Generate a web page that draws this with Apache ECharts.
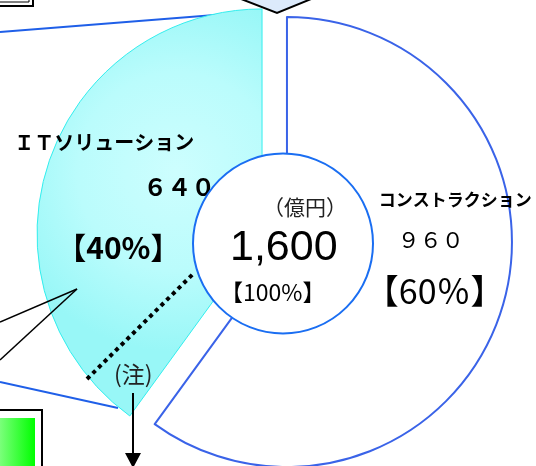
<!DOCTYPE html>
<html><head><meta charset="utf-8">
<script src="https://cdn.jsdelivr.net/npm/echarts@6/dist/echarts.min.js"></script>
<style>html,body{margin:0;padding:0;background:#fff}#c{width:536px;height:466px}</style>
</head><body><div id="c"></div>
<script>
// ---- data ----
const categories = ['コンストラクション', 'ＩＴソリューション'];
const values = [960, 640];
const shareLabels = ['60％', '40%'];
const total = 1600;
const totalLines = ['（億円）', '1,600', '【100%】'];
const noteLabel = '(注)';

const fw = n => String(n).replace(/[0-9]/g, d => String.fromCharCode(d.charCodeAt(0) + 0xFEE0));
const JP = '"Noto Sans CJK JP", sans-serif';

const chart = echarts.init(document.getElementById('c'), null, {renderer: 'canvas'});

const itGrad = new echarts.graphic.RadialGradient(0.62, 0.4, 0.8, [
  {offset: 0, color: '#cdfefe'},
  {offset: 0.55, color: '#bafcfc'},
  {offset: 1, color: '#98f7f7'}
]);
const greenGrad = new echarts.graphic.LinearGradient(0, 0, 1, 0, [
  {offset: 0, color: '#8cff8c'},
  {offset: 1, color: '#00ff00'}
]);

chart.setOption({
  animation: false,
  backgroundColor: '#fff',
  title: {
    left: 220, top: 193, padding: 0, z: 20,
    text: `{a|${totalLines[0]}}\n{b|${totalLines[1]}}\n{c|${totalLines[2]}}`,
    textStyle: {
      color: '#000', fontWeight: 'normal', fontFamily: JP, fontSize: 17,
      rich: {
        a: {fontFamily: JP, fontSize: 21, fontWeight: 'normal', lineHeight: 28, align: 'left', padding: [0, 0, 0, 43], color: '#222'},
        b: {fontFamily: '"Liberation Sans", Arial, sans-serif', fontSize: 43, fontWeight: 'normal', lineHeight: 54, align: 'left', padding: [0, 0, 0, 10], color: '#000'},
        c: {fontFamily: JP, fontSize: 23, fontWeight: 'normal', lineHeight: 34, align: 'left', padding: [0, 0, 0, 0], color: '#000'}
      }
    }
  },
  series: [
    {
      type: 'pie',
      z: 2,
      center: [274.5, 238],
      radius: [0, 225],
      startAngle: 90,
      clockwise: true,
      selectedMode: 'multiple',
      selectedOffset: 13.1,
      silent: true,
      labelLine: {show: false},
      data: [
        {
          name: categories[0], value: values[0], selected: true,
          itemStyle: {color: '#ffffff', borderColor: '#3a63e8', borderWidth: 2},
          select: {itemStyle: {color: '#ffffff', borderColor: '#3a63e8', borderWidth: 2}},
          label: {
            show: true, position: 'inside',
            padding: [0, 0, 54, 103],
            color: '#000', fontFamily: JP,
            formatter: p => `{a|${p.name}}\n{b|${fw(p.value)}}\n{c|【${shareLabels[0]}】}`,
            rich: {
              a: {fontFamily: JP, fontSize: 17, fontWeight: 'bold', lineHeight: 34, align: 'left', padding: [0, 0, 0, 14], color: '#000'},
              b: {fontFamily: JP, fontSize: 22, fontWeight: 'normal', lineHeight: 46, align: 'left', padding: [0, 0, 0, 33], color: '#000'},
              c: {fontFamily: JP, fontSize: 34, fontWeight: 'normal', lineHeight: 56, align: 'left', padding: [0, 0, 0, 0], color: '#000'}
            }
          }
        },
        {
          name: categories[1], value: values[1], selected: true,
          itemStyle: {color: itGrad, borderColor: '#33eeee', borderWidth: 1},
          select: {itemStyle: {color: itGrad, borderColor: '#33eeee', borderWidth: 1}},
          label: {
            show: true, position: 'inside',
            padding: [8, 75, 0, 0],
            color: '#000', fontFamily: JP,
            formatter: p => `{a|${p.name}}\n{b|${fw(p.value)}}\n{c|【${shareLabels[1]}】}`,
            rich: {
              a: {fontFamily: JP, fontSize: 20, fontWeight: 'bold', lineHeight: 40, align: 'left', padding: [0, 0, 0, 0], color: '#000'},
              b: {fontFamily: JP, fontSize: 24, fontWeight: 'bold', lineHeight: 50, align: 'left', padding: [0, 0, 0, 129], color: '#000'},
              c: {fontFamily: JP, fontSize: 30, fontWeight: 'bold', lineHeight: 70, align: 'left', padding: [0, 0, 0, 42], color: '#000'}
            }
          }
        }
      ]
    },
    {
      type: 'pie',
      z: 3,
      center: [283, 243.5],
      radius: [0, 90],
      silent: true,
      label: {show: false},
      labelLine: {show: false},
      data: [{
        name: '合計', value: total,
        itemStyle: {color: '#ffffff', borderColor: '#1a6ef2', borderWidth: 2}
      }]
    }
  ],
  graphic: {
    elements: [
      // top-left framed box
      {type: 'rect', z: 0, shape: {x: -5, y: -10, width: 38, height: 16}, style: {fill: '#fff', stroke: '#000', lineWidth: 2}},
      {type: 'rect', z: 0, shape: {x: -5, y: -10, width: 34, height: 12}, style: {fill: 'none', stroke: '#000', lineWidth: 1}},
      // top diamond
      {type: 'polygon', z: 10, shape: {points: [[236, -3], [277, 13], [316, -3]]}, style: {fill: '#dceafb', stroke: '#000', lineWidth: 2}},
      // blue connector lines (under the pie)
      {type: 'line', z: 0, shape: {x1: 0, y1: 32, x2: 240, y2: 13}, style: {stroke: '#1f5fe8', lineWidth: 2}},
      {type: 'line', z: 0, shape: {x1: 0, y1: 382, x2: 118, y2: 408}, style: {stroke: '#1f5fe8', lineWidth: 2}},
      // black callout lines
      {type: 'line', z: 10, shape: {x1: 0, y1: 322, x2: 77, y2: 289}, style: {stroke: '#000', lineWidth: 1.5}},
      {type: 'line', z: 10, shape: {x1: 0, y1: 360, x2: 77, y2: 289}, style: {stroke: '#000', lineWidth: 1.5}},
      // dotted line inside IT slice
      {type: 'line', z: 10, shape: {x1: 87, y1: 379, x2: 194, y2: 273}, style: {stroke: '#000', lineWidth: 4, lineDash: [4, 4]}},
      // note text
      {type: 'text', z: 10, x: 114, y: 363, style: {text: noteLabel, fontFamily: JP, fontSize: 23, fill: '#222'}},
      // arrow
      {type: 'line', z: 10, shape: {x1: 133, y1: 393, x2: 133, y2: 458}, style: {stroke: '#000', lineWidth: 2}},
      {type: 'polygon', z: 10, shape: {points: [[125, 453], [141, 453], [133, 468]]}, style: {fill: '#000'}},
      // green box
      {type: 'rect', z: 10, shape: {x: -5, y: 410, width: 47, height: 70}, style: {fill: '#fff', stroke: '#000', lineWidth: 2}},
      {type: 'rect', z: 11, shape: {x: -5, y: 418, width: 40, height: 60}, style: {fill: greenGrad}}
    ]
  }
});
</script>
</body></html>
